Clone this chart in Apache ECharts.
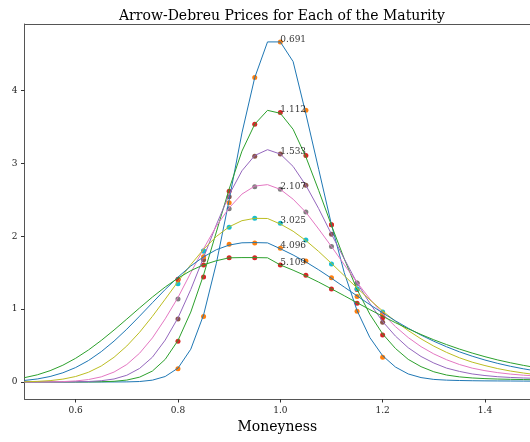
<!DOCTYPE html>
<html>
<head>
<meta charset="utf-8">
<script src="https://cdn.jsdelivr.net/npm/echarts@6.0.0/dist/echarts.min.js"></script>
<style>
  html, body { margin: 0; padding: 0; background: #fff; }
  #chart { width: 530px; height: 442px; }
</style>
</head>
<body>
<div id="chart"></div>
<script>
// moneyness grid for the density curves
const moneyness = [0.5, 0.525, 0.55, 0.575, 0.6, 0.625, 0.65, 0.675, 0.7, 0.725,
  0.75, 0.775, 0.8, 0.825, 0.85, 0.875, 0.9, 0.925, 0.95, 0.975,
  1.0, 1.025, 1.05, 1.075, 1.1, 1.125, 1.15, 1.175, 1.2, 1.225,
  1.25, 1.275, 1.3, 1.325, 1.35, 1.375, 1.4, 1.425, 1.45, 1.475, 1.5]

// strikes where the dots are
const strikes = [0.8, 0.85, 0.9, 0.95, 1.0, 1.05, 1.1, 1.15, 1.2]

const maturities = ['0.691', '1.112', '1.533', '2.107', '3.025', '4.096', '5.109']

const curve1 = [0, 0, 0, 0, 0, 0, 0, 0, 0.001, 0.006,
  0.025, 0.075, 0.19, 0.45, 0.92, 1.63, 2.50, 3.42, 4.18, 4.67,
  4.67, 4.40, 3.68, 2.92, 2.16, 1.50, 0.98, 0.61, 0.36, 0.205,
  0.11, 0.06, 0.035, 0.025, 0.02, 0.017, 0.015, 0.014, 0.013, 0.012, 0.011]
const curve2 = [0, 0, 0, 0, 0, 0.001, 0.003, 0.009, 0.026, 0.066,
  0.15, 0.31, 0.57, 0.96, 1.47, 2.06, 2.65, 3.17, 3.54, 3.73,
  3.69, 3.47, 3.09, 2.63, 2.15, 1.69, 1.27, 0.93, 0.66, 0.46,
  0.31, 0.21, 0.14, 0.095, 0.07, 0.055, 0.046, 0.04, 0.036, 0.033, 0.03]
const curve3 = [0, 0, 0, 0, 0.002, 0.006, 0.017, 0.041, 0.092, 0.186,
  0.34, 0.575, 0.88, 1.27, 1.71, 2.16, 2.57, 2.90, 3.11, 3.19,
  3.13, 2.96, 2.70, 2.38, 2.03, 1.69, 1.36, 1.08, 0.83, 0.63,
  0.47, 0.35, 0.26, 0.19, 0.145, 0.11, 0.088, 0.072, 0.062, 0.055, 0.05]
const curve4 = [0, 0.001, 0.002, 0.005, 0.014, 0.033, 0.07, 0.136, 0.24, 0.395,
  0.605, 0.867, 1.16, 1.50, 1.83, 2.14, 2.39, 2.58, 2.69, 2.71,
  2.645, 2.51, 2.33, 2.10, 1.86, 1.61, 1.367, 1.14, 0.935, 0.76,
  0.61, 0.485, 0.385, 0.305, 0.24, 0.19, 0.155, 0.128, 0.108, 0.093, 0.082]
const curve5 = [0.003, 0.008, 0.0185, 0.039, 0.075, 0.133, 0.219, 0.339, 0.494, 0.683,
  0.901, 1.137, 1.378, 1.611, 1.822, 1.998, 2.131, 2.215, 2.247, 2.245,
  2.169, 2.070, 1.942, 1.792, 1.628, 1.459, 1.291, 1.128, 0.975, 0.833,
  0.706, 0.592, 0.492, 0.406, 0.332, 0.272, 0.225, 0.183, 0.15, 0.123, 0.10]
const curve6 = [0.021, 0.041, 0.075, 0.126, 0.198, 0.294, 0.416, 0.561, 0.725, 0.904,
  1.088, 1.270, 1.440, 1.592, 1.719, 1.816, 1.880, 1.911, 1.914, 1.910,
  1.830, 1.744, 1.648, 1.540, 1.424, 1.303, 1.182, 1.062, 0.948, 0.839,
  0.738, 0.644, 0.559, 0.483, 0.414, 0.354, 0.301, 0.255, 0.215, 0.181, 0.151]
const curve7 = [0.059, 0.098, 0.155, 0.230, 0.325, 0.439, 0.570, 0.713, 0.864, 1.017,
  1.166, 1.304, 1.426, 1.529, 1.609, 1.665, 1.705, 1.708, 1.708, 1.705,
  1.607, 1.535, 1.457, 1.371, 1.279, 1.184, 1.088, 0.994, 0.902, 0.814,
  0.730, 0.652, 0.579, 0.513, 0.452, 0.397, 0.347, 0.302, 0.263, 0.228, 0.197]

// dots at the strikes
const dots1 = [0.18, 0.90, 2.46, 4.18, 4.67, 3.73, 2.16, 0.97, 0.34]
const dots2 = [0.56, 1.44, 2.62, 3.54, 3.70, 3.11, 2.16, 1.27, 0.646]
const dots3 = [0.865, 1.68, 2.545, 3.10, 3.13, 2.70, 2.03, 1.36, 0.82]
const dots4 = [1.14, 1.80, 2.38, 2.68, 2.647, 2.335, 1.86, 1.356, 0.92]
const dots5 = [1.35, 1.80, 2.125, 2.25, 2.18, 1.95, 1.62, 1.28, 0.961]
const dots6 = [1.40, 1.72, 1.89, 1.91, 1.836, 1.66, 1.43, 1.172, 0.934]
const dots7 = [1.41, 1.607, 1.707, 1.707, 1.607, 1.466, 1.277, 1.08, 0.883]

const xTicks = [0.6, 0.8, 1.0, 1.2, 1.4]
const yTicks = [0, 1, 2, 3, 4]

const curves = [curve1, curve2, curve3, curve4, curve5, curve6, curve7]
const dots = [dots1, dots2, dots3, dots4, dots5, dots6, dots7]
const lineColors = ['#1f77b4', '#2ca02c', '#9467bd', '#e377c2', '#bcbd22', '#1f77b4', '#2ca02c']
const dotColors = ['#ff7f0e', '#d62728', '#8c564b', '#7f7f7f', '#17becf', '#ff7f0e', '#d62728']

const serif = 'DejaVu Serif'
const series = []

// matplotlib draws scatter (zorder 1) under lines (zorder 2), text on top
dots.forEach((d, i) => {
  series.push({
    type: 'scatter',
    z: 1,
    symbolSize: 5,
    itemStyle: { color: dotColors[i], opacity: 1 },
    data: strikes.map((k, j) => [k, d[j]])
  })
})
curves.forEach((c, i) => {
  series.push({
    type: 'line',
    z: 2,
    showSymbol: false,
    symbol: 'none',
    lineStyle: { width: 1, color: lineColors[i] },
    data: moneyness.map((m, j) => [m, c[j]])
  })
})
// maturity labels at moneyness 1.0
const atMoney = strikes.indexOf(1.0)
series.push({
  type: 'scatter',
  z: 3,
  symbolSize: 2,
  itemStyle: { color: 'rgba(0,0,0,0)' },
  label: {
    show: true,
    position: [1, 3],
    align: 'left',
    verticalAlign: 'bottom',
    fontFamily: serif,
    fontSize: 9,
    color: '#000',
    formatter: (p) => p.value[2]
  },
  data: dots.map((d, i) => ({ value: [1.0, d[atMoney], maturities[i]] }))
})

const chart = echarts.init(document.getElementById('chart'))
chart.setOption({
  animation: false,
  title: {
    text: 'Arrow-Debreu Prices for Each of the Maturity',
    left: 277,
    top: 4,
    textAlign: 'center',
    textStyle: { fontFamily: serif, fontSize: 14, fontWeight: 'normal', color: '#000' }
  },
  grid: {
    left: 24.5,
    right: 0,
    top: 24,
    bottom: 43
  },
  xAxis: [{
    type: 'value',
    min: 0.5,
    max: 1.488,
    name: 'Moneyness',
    nameLocation: 'middle',
    nameGap: 20,
    nameTextStyle: { fontFamily: serif, fontSize: 14, color: '#000' },
    axisLine: { show: true, onZero: false, lineStyle: { color: '#555', width: 1 } },
    axisTick: { show: true, inside: false, length: 3.5, customValues: xTicks, lineStyle: { color: '#333' } },
    axisLabel: {
      customValues: xTicks,
      margin: 7,
      fontFamily: serif,
      fontSize: 9,
      color: '#222',
      formatter: (v) => v.toFixed(1)
    },
    splitLine: { show: false }
  }, {
    // top spine only
    type: 'value',
    position: 'top',
    min: 0.5,
    max: 1.488,
    axisLine: { show: true, onZero: false, lineStyle: { color: '#555', width: 1 } },
    axisTick: { show: false },
    axisLabel: { show: false },
    splitLine: { show: false }
  }],
  yAxis: {
    type: 'value',
    min: -0.234,
    max: 4.916,
    axisLine: { show: true, onZero: false, lineStyle: { color: '#555', width: 1 } },
    axisTick: { show: true, inside: false, length: 3.5, customValues: yTicks, lineStyle: { color: '#333' } },
    axisLabel: {
      customValues: yTicks,
      margin: 7,
      fontFamily: serif,
      fontSize: 9,
      color: '#222',
      formatter: (v) => String(v)
    },
    splitLine: { show: false }
  },
  series: series
})
</script>
</body>
</html>
